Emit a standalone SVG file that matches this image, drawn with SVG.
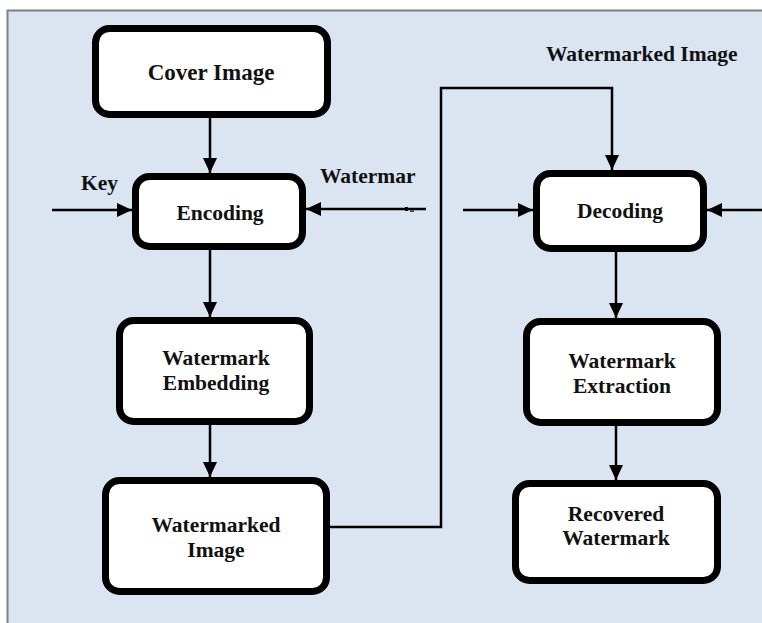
<svg xmlns="http://www.w3.org/2000/svg" width="762" height="623" viewBox="0 0 762 623">
  <style>
    .box { fill: #ffffff; stroke: #000000; stroke-width: 7; }
    .lbl { font-family: "Liberation Serif", "Times New Roman", serif; font-weight: bold; font-size: 21.5px; fill: #111111; }
    .big { font-size: 23px; }
    .mid { text-anchor: middle; }
    .wire { fill: none; stroke: #000000; stroke-width: 2.5; }
  </style>
  <defs>
    <marker id="arrow" markerUnits="userSpaceOnUse" markerWidth="15" markerHeight="14" refX="15" refY="7" orient="auto">
      <path d="M0,0 L15,7 L0,14 Z" fill="#000000"/>
    </marker>
  </defs>

  <!-- background panel -->
  <rect x="7.5" y="10.5" width="800" height="700" fill="#dbe5f1" stroke="#808080" stroke-width="2"/>

  <!-- connectors -->
  <g id="connectors" class="wire" marker-end="url(#arrow)">
    <path d="M210,118 V173"/>
    <path d="M210,250 V317"/>
    <path d="M210,425 V477"/>
    <path d="M52,210 H132"/>
    <path d="M426,209 H306"/>
    <path d="M330,527 H441 V88 H612 V170"/>
    <path d="M463,210 H533"/>
    <path d="M762,210 H707"/>
    <path d="M616,252 V318"/>
    <path d="M616,426 V480"/>
  </g>
  <g id="wire-mark" fill="#000000">
    <rect x="405" y="207" width="3" height="4"/>
    <rect x="410" y="210.5" width="4" height="1.2"/>
  </g>

  <!-- free labels -->
  <g id="label-key"><text class="lbl" x="81" y="190">Key</text></g>
  <g id="label-watermark"><text class="lbl" x="320" y="183">Watermar</text></g>
  <g id="label-watermarked-image"><text class="lbl" x="546" y="61">Watermarked Image</text></g>

  <!-- encoder side -->
  <g id="cover-image">
    <rect class="box" x="95.5" y="28.5" width="232" height="86" rx="14"/>
    <text class="lbl big mid" x="211" y="80">Cover Image</text>
  </g>
  <g id="encoding">
    <rect class="box" x="135.5" y="176.5" width="167" height="70" rx="14"/>
    <text class="lbl mid" x="220" y="220">Encoding</text>
  </g>
  <g id="watermark-embedding">
    <rect class="box" x="119.5" y="320.5" width="190" height="101" rx="14"/>
    <text class="lbl mid" x="216" y="365">Watermark</text>
    <text class="lbl mid" x="216" y="390">Embedding</text>
  </g>
  <g id="watermarked-image">
    <rect class="box" x="105.5" y="480.5" width="221" height="111" rx="14"/>
    <text class="lbl mid" x="216" y="532">Watermarked</text>
    <text class="lbl mid" x="216" y="557">Image</text>
  </g>

  <!-- decoder side -->
  <g id="decoding">
    <rect class="box" x="536.5" y="173.5" width="167" height="75" rx="14"/>
    <text class="lbl mid" x="620" y="218">Decoding</text>
  </g>
  <g id="watermark-extraction">
    <rect class="box" x="526.5" y="321.5" width="191" height="101" rx="14"/>
    <text class="lbl mid" x="622" y="368">Watermark</text>
    <text class="lbl mid" x="622" y="393">Extraction</text>
  </g>
  <g id="recovered-watermark">
    <rect class="box" x="515.5" y="483.5" width="202" height="97" rx="14"/>
    <text class="lbl mid" x="616" y="521">Recovered</text>
    <text class="lbl mid" x="616" y="545">Watermark</text>
  </g>
</svg>
